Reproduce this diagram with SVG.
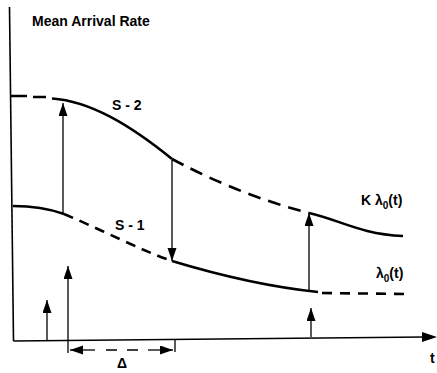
<svg xmlns="http://www.w3.org/2000/svg" width="437" height="373" viewBox="0 0 437 373">
<style>
text{font-family:"Liberation Sans",Arial,Helvetica,sans-serif;font-weight:bold;font-size:14px;fill:#000}
.ax{stroke:#000;stroke-width:1.6;fill:none}
.cv{stroke:#000;stroke-width:2.6;fill:none}
.ds{stroke-dasharray:12 8}
.ar{stroke:#000;stroke-width:1.3;fill:none;marker-end:url(#ah)}
.ln{stroke:#000;stroke-width:1.3;fill:none}
</style>
<defs>
<marker id="ah" markerUnits="userSpaceOnUse" markerWidth="14" markerHeight="10" refX="13" refY="4.5" orient="auto" viewBox="0 0 14 10">
<path d="M0,0 L13,4.5 L0,9 z" fill="#000"/>
</marker>
<marker id="ahs" markerUnits="userSpaceOnUse" markerWidth="14" markerHeight="10" refX="13" refY="4.5" orient="auto-start-reverse" viewBox="0 0 14 10">
<path d="M0,0 L13,4.5 L0,9 z" fill="#000"/>
</marker>
</defs>
<g id="axes">
<path class="ax" d="M9.5,7 L13.5,341"/>
<path class="ax" d="M13.5,341 L425,337"/>
<path d="M422,332 L437,337 L422,342 z" fill="#000"/>
</g>
<g id="curve-S2">
<path class="cv" d="M11,96 H27 M33,97 H46"/>
<path class="cv" d="M52,98.5 C90,101 130,125 172,159"/>
<path class="cv" style="stroke-dasharray:13 8" d="M172,159 C200,174 250,198 309,213"/>
<path class="cv" d="M309,213 C340,220 360,234 403,236"/>
</g>
<g id="curve-S1">
<path class="cv" d="M13,206 C35,206 50,209 64,214"/>
<path class="cv" style="stroke-dasharray:10 7" d="M64,214 C100,229 140,250 172,261"/>
<path class="cv" d="M172,261 C215,274 270,287 318,292"/>
<path class="cv" style="stroke-dasharray:10 8" d="M322,293 L405,294"/>
</g>
<g id="connectors">
<path class="ar" d="M63,214 V103"/>
<path class="ar" d="M172,160 V261"/>
<path class="ar" d="M309,291 V213"/>
<path class="ar" d="M47,341 V300"/>
<path class="ar" d="M68,353 V266"/>
<path class="ar" d="M311,337 V308"/>
<path class="ln" d="M175,340 V352"/>
<path class="ln" d="M95,350 H70" marker-end="url(#ah)"/>
<path class="ln" d="M106,350 H117 M127,350 H138"/>
<path class="ln" d="M148,350 H173" marker-end="url(#ah)"/>
</g>
<g id="labels">
<text x="32" y="26">Mean Arrival Rate</text>
<text x="112" y="110">S - 2</text>
<text x="115" y="230">S - 1</text>
<text x="361" y="205">K λ<tspan font-size="10" dy="4">0</tspan><tspan dy="-4">(t)</tspan></text>
<text x="376" y="278">λ<tspan font-size="10" dy="4">0</tspan><tspan dy="-4">(t)</tspan></text>
<text x="430" y="363">t</text>
<text x="122" y="368" text-anchor="middle">Δ</text>
</g>
</svg>
